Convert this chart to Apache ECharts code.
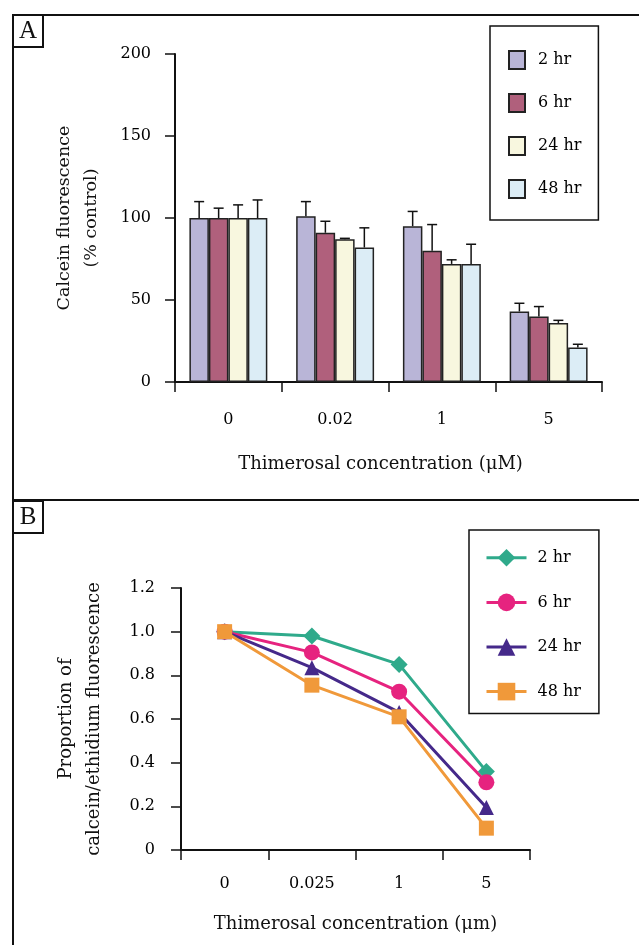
<!DOCTYPE html>
<html>
<head>
<meta charset="utf-8">
<script src="https://cdn.jsdelivr.net/npm/echarts@6/dist/echarts.min.js"></script>
<style>
  html, body { margin: 0; padding: 0; background: #fff; }
  #main { width: 639px; height: 945px; }
</style>
</head>
<body>
<div id="main"></div>
<script>
// panel A: calcein fluorescence (% control)
var concA = ['0', '0.02', '1', '5'];
var timeNames = ['2 hr', '6 hr', '24 hr', '48 hr'];
var calcein2hr = [100, 101, 95, 43];
var calcein6hr = [100, 91, 80, 40];
var calcein24hr = [100, 87, 72, 36];
var calcein48hr = [100, 82, 72, 21];
// error bar size (upper half only)
var sd2hr = [10, 9, 9, 5];
var sd6hr = [6, 7, 16, 6];
var sd24hr = [8, 0.6, 2.5, 1.6];
var sd48hr = [11, 12, 12, 2];

// panel B: calcein/ethidium ratio
var concB = ['0', '0.025', '1', '5'];
var ratio2hr = [1.0, 0.98, 0.85, 0.36];
var ratio6hr = [1.0, 0.905, 0.725, 0.31];
var ratio24hr = [1.0, 0.835, 0.63, 0.195];
var ratio48hr = [1.0, 0.755, 0.61, 0.10];

var barColors = ['#b9b5d7', '#b0607c', '#f8f7df', '#dcedf6'];
var lineColors = ['#2faa8b', '#e6237f', '#45298a', '#f0993a'];
var symbols = ['diamond', 'circle', 'triangle', 'rect'];
var symbolSizes = [17, 16, 15, 15];

var FONT = 'DejaVu Serif';
var barGap = 0.27;

var myChart = echarts.init(document.getElementById('main'));

var barData = [calcein2hr, calcein6hr, calcein24hr, calcein48hr];
var sdData = [sd2hr, sd6hr, sd24hr, sd48hr];
var ratioData = [ratio2hr, ratio6hr, ratio24hr, ratio48hr];

// the line series get a prefix so both legends can have the same labels
var lineNames = timeNames.map(function (n) { return 'B ' + n; });

var series = [];

barData.forEach(function (vals, k) {
    series.push({
        name: timeNames[k],
        type: 'bar',
        xAxisIndex: 0,
        yAxisIndex: 0,
        data: vals,
        barGap: '0%',
        barCategoryGap: (barGap * 100) + '%',
        itemStyle: { color: barColors[k], borderColor: '#222', borderWidth: 1.5 }
    });
});

// error bars, drawn on top of the bars
barData.forEach(function (vals, k) {
    series.push({
        type: 'custom',
        xAxisIndex: 0,
        yAxisIndex: 0,
        z: 5,
        data: vals.map(function (v, i) { return [i, v, v + sdData[k][i]]; }),
        renderItem: function (params, api) {
            var idx = api.value(0);
            var band = api.size([1, 0])[0];
            var bw = band * (1 - barGap) / 4;
            var cx = api.coord([idx, 0])[0] + (k - 1.5) * bw;
            var y0 = api.coord([idx, api.value(1)])[1];
            var y1 = api.coord([idx, api.value(2)])[1];
            var st = { stroke: '#111', lineWidth: 1.5 };
            return {
                type: 'group',
                children: [
                    { type: 'line', shape: { x1: cx, y1: y0, x2: cx, y2: y1 }, style: st },
                    { type: 'line', shape: { x1: cx - 5, y1: y1, x2: cx + 5, y2: y1 }, style: st }
                ]
            };
        },
        silent: true
    });
});

ratioData.forEach(function (vals, k) {
    series.push({
        name: lineNames[k],
        type: 'line',
        xAxisIndex: 1,
        yAxisIndex: 1,
        data: vals,
        symbol: symbols[k],
        symbolSize: symbolSizes[k],
        lineStyle: { color: lineColors[k], width: 3 },
        itemStyle: { color: lineColors[k] }
    });
});

var axisLine = { show: true, lineStyle: { color: '#111', width: 2 } };
var axisTick = { show: true, length: 10, lineStyle: { color: '#111', width: 1.5 } };
var labelStyle = { fontFamily: FONT, fontSize: 16, color: '#000' };
var nameStyle = { fontFamily: FONT, fontSize: 18, color: '#111' };

option = {
    animation: false,
    backgroundColor: '#fff',
    textStyle: { fontFamily: FONT },
    grid: [
        { left: 175, top: 54, width: 427, height: 328 },
        { left: 181, top: 588, width: 349, height: 262 }
    ],
    legend: [
        {
            data: timeNames.map(function (n) { return { name: n, icon: 'rect' }; }),
            orient: 'vertical',
            left: 490,
            top: 26,
            padding: [24, 17, 21, 18],
            itemWidth: 16,
            itemHeight: 18,
            itemGap: 23,
            borderColor: '#111',
            borderWidth: 1.5,
            backgroundColor: '#fff',
            selectedMode: false,
            textStyle: { fontFamily: FONT, fontSize: 16, color: '#000', padding: [0, 0, 0, 8] }
        },
        {
            data: lineNames,
            formatter: function (name) { return name.replace('B ', ''); },
            orient: 'vertical',
            left: 469,
            top: 530,
            padding: [19, 18, 13, 16],
            itemWidth: 40,
            itemHeight: 22,
            itemGap: 27,
            lineStyle: { width: 3 },
            borderColor: '#111',
            borderWidth: 1.5,
            backgroundColor: '#fff',
            selectedMode: false,
            textStyle: { fontFamily: FONT, fontSize: 16, color: '#000', padding: [0, 0, 0, 6] }
        }
    ],
    xAxis: [
        {
            gridIndex: 0,
            type: 'category',
            data: concA,
            axisLine: axisLine,
            axisTick: axisTick,
            axisLabel: Object.assign({ margin: 30 }, labelStyle),
            name: 'Thimerosal concentration (\u03bcM)',
            nameLocation: 'middle',
            nameGap: 73,
            nameTextStyle: Object.assign({}, nameStyle, { padding: [0, 16, 0, 0] })
        },
        {
            gridIndex: 1,
            type: 'category',
            data: concB,
            axisLine: axisLine,
            axisTick: axisTick,
            axisLabel: Object.assign({ margin: 26 }, labelStyle),
            name: 'Thimerosal concentration (\u03bcm)',
            nameLocation: 'middle',
            nameGap: 65,
            nameTextStyle: nameStyle
        }
    ],
    yAxis: [
        {
            gridIndex: 0,
            type: 'value',
            min: 0,
            max: 200,
            interval: 50,
            splitLine: { show: false },
            axisLine: axisLine,
            axisTick: axisTick,
            axisLabel: Object.assign({ margin: 24 }, labelStyle),
            name: 'Calcein fluorescence\n(% control)',
            nameLocation: 'middle',
            nameGap: 70,
            nameTextStyle: Object.assign({}, nameStyle, { fontSize: 17.5, lineHeight: 27 })
        },
        {
            gridIndex: 1,
            type: 'value',
            min: 0,
            max: 1.2,
            interval: 0.2,
            splitLine: { show: false },
            axisLine: axisLine,
            axisTick: axisTick,
            axisLabel: Object.assign({
                margin: 26,
                formatter: function (v) { return v === 0 ? '0' : v.toFixed(1); }
            }, labelStyle),
            name: 'Proportion of\ncalcein/ethidium fluorescence',
            nameLocation: 'middle',
            nameGap: 73,
            nameTextStyle: Object.assign({}, nameStyle, { lineHeight: 28 })
        }
    ],
    graphic: [
        // panel frames
        { type: 'rect', shape: { x: 13, y: 15, width: 700, height: 485 }, style: { fill: 'none', stroke: '#111', lineWidth: 2 }, z: 0 },
        { type: 'rect', shape: { x: 13, y: 500, width: 700, height: 500 }, style: { fill: 'none', stroke: '#111', lineWidth: 2 }, z: 0 },
        // panel letters
        { type: 'rect', shape: { x: 13, y: 15, width: 30, height: 32 }, style: { fill: '#fff', stroke: '#111', lineWidth: 2 }, z: 1 },
        { type: 'text', x: 28, y: 31, style: { text: 'A', fontFamily: 'Liberation Serif', fontSize: 25, fill: '#111', align: 'center', verticalAlign: 'middle' }, z: 2 },
        { type: 'rect', shape: { x: 13, y: 501, width: 30, height: 32 }, style: { fill: '#fff', stroke: '#111', lineWidth: 2 }, z: 1 },
        { type: 'text', x: 28, y: 517, style: { text: 'B', fontFamily: 'Liberation Serif', fontSize: 25, fill: '#111', align: 'center', verticalAlign: 'middle' }, z: 2 }
    ],
    series: series
};

myChart.setOption(option);
</script>
</body>
</html>
